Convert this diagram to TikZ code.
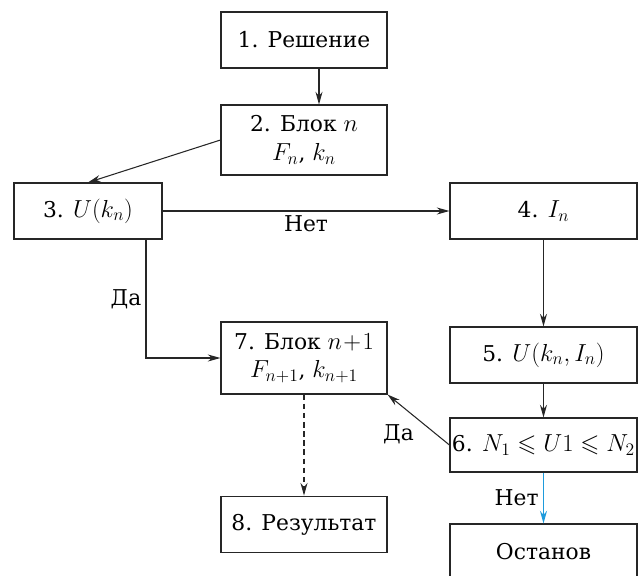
\RequirePackage{fix-cm}
\documentclass[tikz,border=0pt]{standalone}
\usepackage{amsmath}
\usepackage{amssymb}
\usepackage{fontspec}
\setmainfont{DejaVu Serif}
\newfontfamily\blockfont{DejaVu Serif}
\DeclareMathSizes{15.5}{17.5}{12.5}{10}
\usetikzlibrary{arrows.meta}
\definecolor{noblue}{RGB}{30,155,220}

\begin{document}
\begin{tikzpicture}[
    x=0.025cm, y=-0.025cm,
    block/.style={rectangle, draw=black!85, line width=0.75pt, align=center,
                  font=\blockfont\fontsize{15.5}{20.5}\selectfont, inner sep=1pt},
    lbl/.style={font=\blockfont\fontsize{15.5}{20.5}\selectfont, inner sep=3pt},
    ->, >={Stealth[length=9pt, width=5pt]}, line width=0.75pt, draw=black!85
]
\useasboundingbox (0,0) rectangle (641,575);

% Middle column
\node[block, minimum width=4.15cm, minimum height=1.4cm]  (s1) at (304,40)  {1. Решение};
\node[block, minimum width=4.15cm, minimum height=1.75cm] (s2) at (304,140) {2. Блок $n$\\ $F_n$, $k_n$};
\node[block, minimum width=4.15cm, minimum height=1.8cm]  (s7) at (304,358) {7. Блок $n\!+\!1$\\ $F_{n+1}$, $k_{n+1}$};
\node[block, minimum width=4.15cm, minimum height=1.42cm] (s8) at (304,524.5) {8. Результат};

% Left column
\node[block, minimum width=3.7cm, minimum height=1.4cm] (s3) at (88,211) {3. $U(k_n)$};

% Right column
\node[block, minimum width=4.675cm, minimum height=1.4cm]  (s4) at (543.5,211) {4. $I_n$};
\node[block, minimum width=4.675cm, minimum height=1.4cm]  (s5) at (543.5,355) {5. $U(k_n,I_n)$};
\node[block, minimum width=4.675cm, minimum height=1.35cm] (s6) at (543.5,445) {6. $N_1 \leqslant U1 \leqslant N_2$};
\node[block, minimum width=4.675cm, minimum height=1.4cm]  (stop) at (543.5,552) {Останов};

% Connections
\draw ([xshift=0.375cm]s1.south) -- ([xshift=0.375cm]s2.north);
\draw (s2.west) -- (s3.north);
\draw (s3.east) -- (s4.west) node[midway, below, lbl] {Нет};
\draw ([xshift=1.45cm]s3.south) |- (s7.west) node[pos=0.25, left, lbl] {Да};
\draw (s4.south) -- (s5.north);
\draw (s5.south) -- (s6.north);
\draw (s6.west) -- (s7.south east) node[midway, below left, lbl] {Да};
\draw[noblue, line width=1pt] (s6.south) -- (stop.north) node[midway, left, lbl, text=black] {Нет};
\draw[dash pattern=on 4pt off 2.5pt] (s7.south) -- (s8.north);

\end{tikzpicture}
\end{document}
